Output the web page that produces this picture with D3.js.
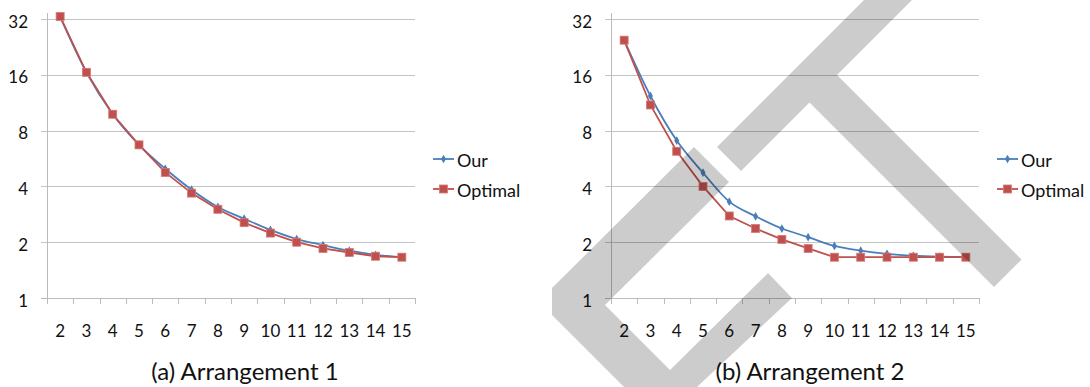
<!DOCTYPE html>
<html>
<head>
<meta charset="utf-8">
<script src="https://cdn.jsdelivr.net/npm/d3@7"></script>
<style>
  body { margin: 0; background: #fff; }
  svg { display: block; font-family: Lato, "Open Sans", sans-serif; }
</style>
</head>
<body>
<div id="chart"></div>
<script>
const width = 1090, height = 387;

// dati
const categories = [2, 3, 4, 5, 6, 7, 8, 9, 10, 11, 12, 13, 14, 15];
const yTicks = [1, 2, 4, 8, 16, 32];
const seriesNames = ["Our", "Optimal"];

const ourA = [33, 16.5, 9.8, 6.7, 4.98, 3.84, 3.10, 2.68, 2.33, 2.08, 1.93, 1.80, 1.71, 1.66];
const optA = [33, 16.5, 9.8, 6.7, 4.76, 3.68, 3.01, 2.55, 2.24, 2.00, 1.85, 1.76, 1.68, 1.66];
const ourB = [24.6, 12.3, 7.07, 4.74, 3.31, 2.76, 2.37, 2.13, 1.91, 1.80, 1.73, 1.69, 1.67, 1.66];
const optB = [24.6, 11.0, 6.19, 4.00, 2.77, 2.37, 2.07, 1.85, 1.66, 1.66, 1.66, 1.66, 1.66, 1.66];

const blue = "#4a7ebb", red = "#c0504d";
const plotW = 368, plotTop = 19, plotBottom = 298;

const svg = d3.select("#chart")
    .append("svg")
    .attr("width", width)
    .attr("height", height);

function drawPanel(left, our, opt, caption, legendX, captionX) {
    const g = svg.append("g");

    const x = d3.scaleBand()
        .domain(categories)
        .range([left, left + plotW]);

    const y = d3.scaleLog()
        .base(2)
        .domain([1, 32])
        .range([plotBottom, plotTop]);

    const cx = d => x(d) + x.bandwidth() / 2;

    // griglia orizzontale
    g.selectAll(".grid")
        .data(yTicks)
        .join("line")
        .attr("x1", left - 6)
        .attr("x2", left + plotW)
        .attr("y1", d => Math.round(y(d)) + 0.5)
        .attr("y2", d => Math.round(y(d)) + 0.5)
        .attr("stroke", d => d === 1 ? "#bcbcbc" : "#c4c4c4")
        .attr("stroke-width", 1);

    // asse verticale
    g.append("line")
        .attr("x1", left + 0.5).attr("x2", left + 0.5)
        .attr("y1", 13).attr("y2", plotBottom)
        .attr("stroke", "#bcbcbc");

    // tacche asse x (tra le categorie)
    const edges = categories.map(c => x(c)).concat([left + plotW]);
    g.selectAll(".xtick")
        .data(edges)
        .join("line")
        .attr("x1", d => Math.round(d) + 0.5)
        .attr("x2", d => Math.round(d) + 0.5)
        .attr("y1", plotBottom)
        .attr("y2", plotBottom + 6)
        .attr("stroke", "#bcbcbc");

    // etichette y
    g.selectAll(".ylab")
        .data(yTicks)
        .join("text")
        .attr("x", left - 19)
        .attr("y", d => y(d) + 2)
        .attr("text-anchor", "end")
        .attr("dominant-baseline", "central")
        .style("font-size", "17px")
        .style("fill", "#111")
        .text(d => d);

    // etichette x
    g.selectAll(".xlab")
        .data(categories)
        .join("text")
        .attr("x", cx)
        .attr("y", plotBottom + 32)
        .attr("text-anchor", "middle")
        .attr("dominant-baseline", "central")
        .style("font-size", "17px")
        .style("fill", "#111")
        .text(d => d);

    const ourLine = d3.line()
        .x((d, i) => cx(categories[i]))
        .y(d => y(d))
        .curve(d3.curveMonotoneX);

    const optLine = d3.line()
        .x((d, i) => cx(categories[i]))
        .y(d => y(d));

    g.append("path")
        .attr("d", ourLine(our))
        .attr("fill", "none")
        .attr("stroke", blue)
        .attr("stroke-width", 1.8);

    const diamond = d3.symbol().type(d3.symbolDiamond).size(22);
    g.selectAll(".ourpt")
        .data(our)
        .join("path")
        .attr("d", diamond)
        .attr("transform", (d, i) => `translate(${cx(categories[i])},${y(d)})`)
        .attr("fill", blue);

    g.append("path")
        .attr("d", optLine(opt))
        .attr("fill", "none")
        .attr("stroke", red)
        .attr("stroke-width", 1.8);

    g.selectAll(".optpt")
        .data(opt)
        .join("rect")
        .attr("x", (d, i) => cx(categories[i]) - 4)
        .attr("y", d => y(d) - 4)
        .attr("width", 8)
        .attr("height", 8)
        .attr("fill", red)
        .attr("stroke", "#d27a78")
        .attr("stroke-width", 0.8);

    // legenda
    const legend = g.append("g");
    seriesNames.forEach((name, i) => {
        const ly = 159 + i * 30;
        const col = i === 0 ? blue : red;
        legend.append("line")
            .attr("x1", legendX).attr("x2", legendX + 21)
            .attr("y1", ly).attr("y2", ly)
            .attr("stroke", col)
            .attr("stroke-width", 1.8);
        if (i === 0) {
            legend.append("path")
                .attr("d", diamond)
                .attr("transform", `translate(${legendX + 10.5},${ly})`)
                .attr("fill", blue);
        } else {
            legend.append("rect")
                .attr("x", legendX + 6.5).attr("y", ly - 4)
                .attr("width", 8).attr("height", 8)
                .attr("fill", red)
                .attr("stroke", "#d27a78")
                .attr("stroke-width", 0.8);
        }
        legend.append("text")
            .attr("x", legendX + 24)
            .attr("y", ly + 1)
            .attr("dominant-baseline", "central")
            .style("font-size", "18px")
            .style("fill", "#111")
            .text(name);
    });

    // didascalia
    g.append("text")
        .attr("x", captionX)
        .attr("y", 370)
        .attr("text-anchor", "middle")
        .attr("dominant-baseline", "central")
        .style("font-size", "24px")
        .style("fill", "#111")
        .text(caption);
}

drawPanel(47, ourA, optA, "(a) Arrangement 1", 433, 245);
drawPanel(611, ourB, optB, "(b) Arrangement 2", 997, 810);

// filigrana grigia sopra il grafico
const watermark = [
    [[552, 288], [552, 315], [624, 387], [697, 387], [792, 298], [768, 273], [670, 370], [605, 305], [729, 182], [694, 147]],
    [[717, 147], [741, 171], [809.5, 102.5], [994, 287], [1021.5, 259.5], [837, 75], [912, 0], [864, 0]]
];

svg.append("g")
    .selectAll("polygon")
    .data(watermark)
    .join("polygon")
    .attr("points", d => d.map(p => p.join(",")).join(" "))
    .attr("fill", "#000")
    .attr("fill-opacity", 0.2);
</script>
</body>
</html>
